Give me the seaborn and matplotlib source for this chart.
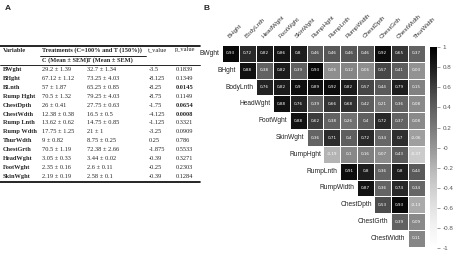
import numpy as np
import pandas as pd
import matplotlib
matplotlib.use('Agg')
from matplotlib import pyplot as plt
import seaborn as sns

# panel A: t-test table
variables = ['BWght', 'BHght', 'BLnth', 'Rump Hght', 'ChestDpth', 'ChestWdth', 'Rump Lnth',
             'Rump Wdth', 'ThurWdth', 'ChestGrth', 'HeadWght', 'FootWght', 'SkinWght']
ctrl = ['29.2 ± 1.39', '67.12 ± 1.12', '57 ± 1.87', '70.5 ± 1.32', '26 ± 0.41', '12.38 ± 0.38',
        '13.62 ± 0.62', '17.75 ± 1.25', '9 ± 0.82', '70.5 ± 1.19', '3.05 ± 0.33', '2.35 ± 0.16',
        '2.19 ± 0.19']
treat = ['32.7 ± 1.34', '73.25 ± 4.03', '65.25 ± 0.85', '79.25 ± 4.03', '27.75 ± 0.63', '16.5 ± 0.5',
         '14.75 ± 0.85', '21 ± 1', '8.75 ± 0.25', '72.38 ± 2.66', '3.44 ± 0.02', '2.6 ± 0.11',
         '2.58 ± 0.1']
t_values = ['-3.5', '-8.125', '-8.25', '-8.75', '-1.75', '-4.125', '-1.125', '-3.25', '0.25',
            '-1.875', '-0.39', '-0.25', '-0.39']
p_values = ['0.1839', '0.1349', '0.0145', '0.1149', '0.0654', '0.0008', '0.3321', '0.0909', '0.786',
            '0.5533', '0.3271', '0.2303', '0.1284']

# panel B: correlation matrix (upper triangle, row i starts at column i)
row_vars = ['BWght', 'BHght', 'BodyLnth', 'HeadWght', 'FootWght', 'SkinWght', 'RumpHght',
            'RumpLnth', 'RumpWidth', 'ChestDpth', 'ChestGrth', 'ChestWidth']
col_vars = ['BHght', 'BodyLnth', 'HeadWght', 'FootWght', 'SkinWght', 'RumpHght', 'RumpLnth',
            'RumpWidth', 'ChestDpth', 'ChestGrth', 'ChestWidth', 'ThurWidth']
corr_rows = [
    [0.93, 0.72, 0.82, 0.86, 0.8, 0.46, 0.46, 0.46, 0.46, 0.92, 0.65, 0.37],
    [0.88, 0.38, 0.82, 0.39, 0.93, 0.06, 0.12, 0.06, 0.57, 0.41, 0.03],
    [0.76, 0.82, 0.9, 0.89, 0.92, 0.82, 0.57, 0.44, 0.79, 0.15],
    [0.88, 0.76, 0.39, 0.66, 0.68, 0.42, 0.21, 0.36, 0.08],
    [0.88, 0.62, 0.38, 0.26, 0.4, 0.72, 0.37, 0.08],
    [0.36, 0.71, 0.4, 0.72, 0.34, 0.7, -0.06],
    [-0.19, 0.1, 0.16, 0.07, 0.43, -0.37],
    [0.91, 0.8, 0.36, 0.8, 0.44],
    [0.87, 0.36, 0.74, 0.34],
    [0.53, 0.93, -0.13],
    [0.39, 0.09],
    [0.11],
]


def DrawTable(tax):
    serif = 'Liberation Serif'
    fs = 4.6
    tax.text(5, 8, 'A', fontsize=6, fontweight='bold', va='center', family='Liberation Sans')
    tax.plot([0, 200], [46, 46], color='black', lw=1.2)
    tax.plot([40, 146], [55.5, 55.5], color='black', lw=0.6)
    tax.plot([0, 200], [64.5, 64.5], color='black', lw=0.6)
    tax.plot([0, 200], [182, 182], color='black', lw=1.2)
    tax.text(3, 50, 'Variable', fontsize=fs, family=serif, fontweight='bold', va='center')
    tax.text(42, 50, 'Treatments (C=100% and T (150%))', fontsize=fs, family=serif,
             fontweight='bold', va='center')
    tax.text(148, 50, 't_value', fontsize=fs, family=serif, va='center')
    tax.text(175, 50, 'p_value', fontsize=fs, family=serif, va='center')
    tax.text(42, 60, 'C (Mean ± SEM)', fontsize=fs, family=serif, fontweight='bold', va='center')
    tax.text(87, 60, 'T (Mean ± SEM)', fontsize=fs, family=serif, fontweight='bold', va='center')
    for k, name in enumerate(variables):
        y = 69.5 + k * 8.9
        tax.text(3, y, name, fontsize=fs, family=serif, fontweight='bold', va='center')
        tax.text(42, y, ctrl[k], fontsize=fs, family=serif, va='center')
        tax.text(87, y, treat[k], fontsize=fs, family=serif, va='center')
        tax.text(149, y, t_values[k], fontsize=fs, family=serif, va='center')
        bold = 'bold' if float(p_values[k]) < 0.07 else 'normal'
        tax.text(176, y, p_values[k], fontsize=fs, family=serif, fontweight=bold, va='center')


def DrawCorr(fig):
    mat = np.full((len(row_vars), len(col_vars)), np.nan)
    for i, row in enumerate(corr_rows):
        mat[i, i:] = row
    df = pd.DataFrame(mat, index=row_vars, columns=col_vars)
    annot = df.map(lambda v: '' if np.isnan(v) else ('%g' % v).replace('.', ','))

    ax = fig.add_axes([0.490, 0.028, 0.448, 0.795])
    cax = fig.add_axes([0.949, 0.024, 0.016, 0.79])
    sns.heatmap(df, mask=df.isna(), cmap='Greys', vmin=-1, vmax=1, annot=annot.values, fmt='',
                annot_kws={'size': 3.0, 'color': 'white'}, linewidths=0.6, linecolor='white',
                cbar_ax=cax, ax=ax, xticklabels=True, yticklabels=False)
    ax.set_xlabel('')
    ax.set_ylabel('')
    ax.xaxis.tick_top()
    ax.set_xticklabels(col_vars, rotation=45, ha='left', rotation_mode='anchor',
                       fontsize=4.5, color='#333333', family='Liberation Sans')
    ax.tick_params(axis='x', length=0, pad=4)
    for i, name in enumerate(row_vars):
        ax.text(i - 0.15, i + 0.5, name, ha='right', va='center', fontsize=4.8,
                color='#222222', family='Liberation Sans')

    ticks = np.round(np.arange(-1, 1.01, 0.2), 1)
    cax.set_yticks(ticks)
    cax.set_yticklabels(['%g' % t for t in ticks], fontsize=4.5, color='#555555',
                        family='Liberation Sans')
    cax.tick_params(axis='y', length=2, width=0.4, pad=2, color='#555555')
    ax.collections[0].colorbar.outline.set_visible(False)


def main():
    sns.set_style('white')
    fig = plt.figure(figsize=(4.53, 2.54), dpi=100)
    tax = fig.add_axes([0, 0, 1, 1])
    tax.set_xlim(0, 453)
    tax.set_ylim(254, 0)
    tax.axis('off')
    DrawTable(tax)
    tax.text(203, 8, 'B', fontsize=6, fontweight='bold', va='center', family='Liberation Sans')
    DrawCorr(fig)
    fig.savefig('out.png', dpi=100)


if __name__ == '__main__':
    main()
